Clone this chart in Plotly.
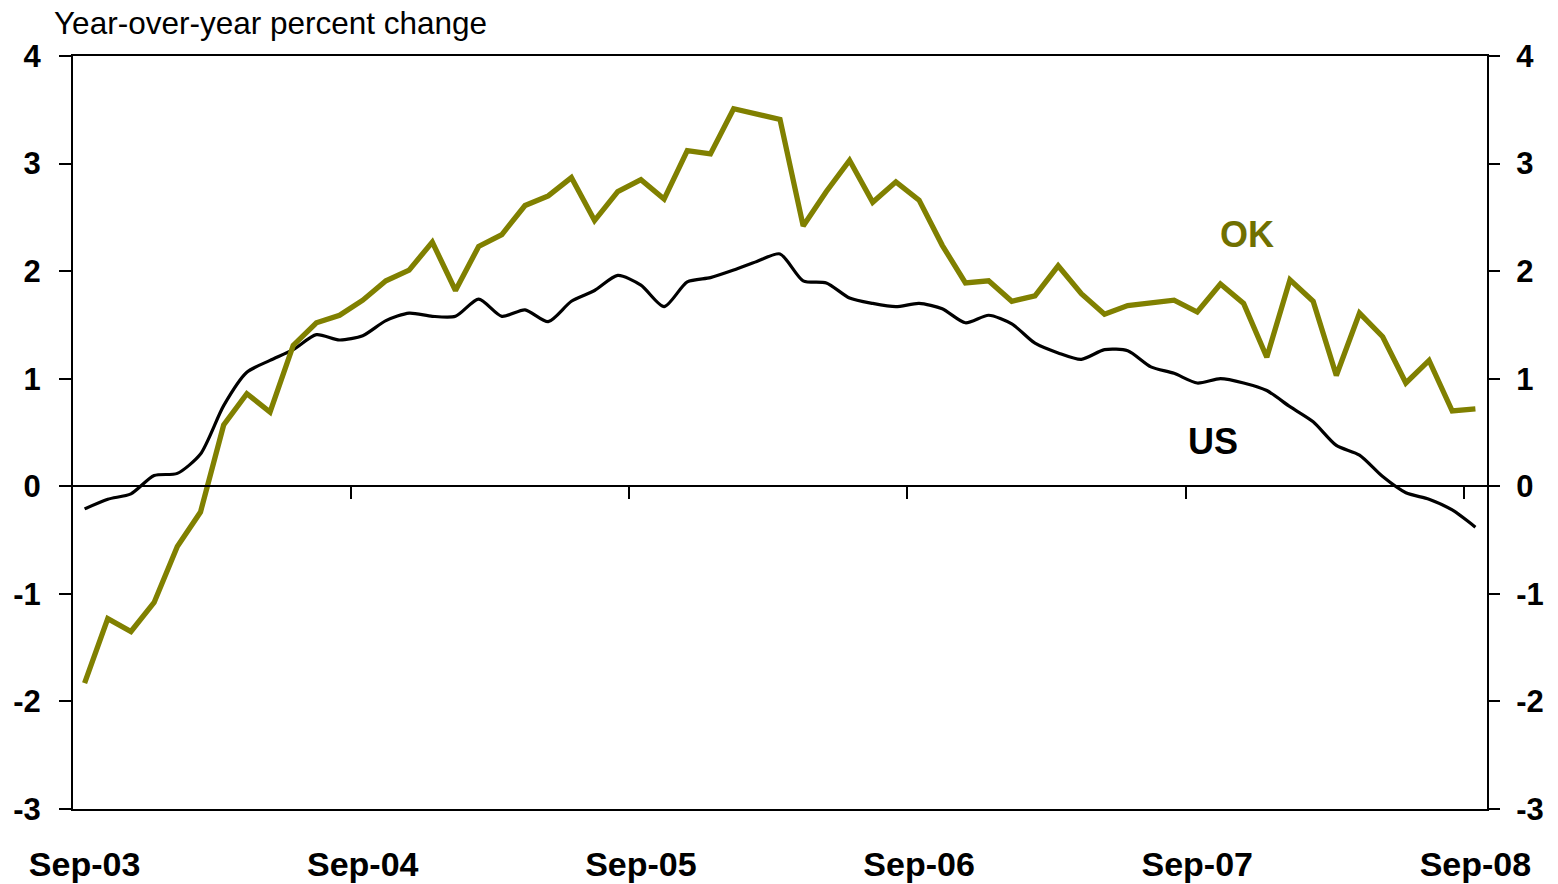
import pandas as pd
import plotly.graph_objects as go

# monthly, Sep-03 .. Sep-08
months = pd.date_range("2003-09-01", periods=61, freq="MS").strftime("%b-%y").tolist()

ok_values = [
    -1.83, -1.23, -1.35, -1.08, -0.56, -0.24, 0.57, 0.86, 0.69, 1.31,
    1.52, 1.59, 1.73, 1.91, 2.01, 2.27, 1.82, 2.23, 2.34, 2.61,
    2.70, 2.87, 2.47, 2.74, 2.85, 2.67, 3.12, 3.09, 3.51, 3.46,
    3.41, 2.42, 2.74, 3.03, 2.64, 2.83, 2.66, 2.24, 1.89, 1.91,
    1.72, 1.77, 2.05, 1.79, 1.60, 1.68, 1.70, 1.73, 1.62, 1.88,
    1.70, 1.20, 1.92, 1.72, 1.03, 1.61, 1.39, 0.96, 1.17, 0.70,
    0.72,
]

us_values = [
    -0.21, -0.12, -0.07, 0.10, 0.12, 0.30, 0.75, 1.06, 1.17, 1.27,
    1.41, 1.36, 1.40, 1.54, 1.61, 1.58, 1.58, 1.74, 1.58, 1.64,
    1.53, 1.72, 1.82, 1.96, 1.87, 1.67, 1.90, 1.94, 2.01, 2.09,
    2.16, 1.91, 1.89, 1.75, 1.70, 1.67, 1.70, 1.65, 1.52, 1.59,
    1.51, 1.33, 1.24, 1.18, 1.27, 1.26, 1.11, 1.05, 0.96, 1.00,
    0.96, 0.89, 0.74, 0.60, 0.38, 0.29, 0.09, -0.06, -0.12, -0.22,
    -0.38,
]

y_ticks = [-3, -2, -1, 0, 1, 2, 3, 4]
y_labels = [str(v) for v in y_ticks]  # plain hyphen, not unicode minus
year_labels = months[::12]
year_bounds = [i - 0.5 for i in range(12, len(months), 12)]

OLIVE = "#808000"
FONT = "Liberation Sans, Arial, sans-serif"
n = len(months)

fig = go.Figure()
fig.add_trace(go.Scatter(x=months, y=us_values, mode="lines", name="US",
                         line=dict(color="black", width=3.2, shape="spline", smoothing=0.7)))
fig.add_trace(go.Scatter(x=months, y=ok_values, mode="lines", name="OK",
                         line=dict(color=OLIVE, width=5.3)))
# empty trace so the right axis and the zero-line axis get drawn
fig.add_trace(go.Scatter(x=[None], y=[None], xaxis="x2", yaxis="y2",
                         mode="lines", showlegend=False, hoverinfo="skip"))

axis_font = dict(family=FONT, size=31, color="black", weight="bold")

fig.update_layout(
    width=1558, height=884,
    margin=dict(l=73, r=71, t=56, b=75),
    paper_bgcolor="white", plot_bgcolor="white",
    showlegend=False,
    font=dict(family=FONT, color="black"),
    xaxis=dict(
        type="category", range=[-0.5, n - 0.5], automargin=False,
        tickmode="array", tickvals=year_labels, ticktext=year_labels,
        ticks="", ticklabelstandoff=24,
        tickfont=dict(family=FONT, size=34, color="black", weight="bold"),
        showline=True, linecolor="black", linewidth=2, mirror=True,
        showgrid=False, zeroline=False,
    ),
    # zero line with year tick marks
    xaxis2=dict(
        overlaying="x", anchor="free", position=3 / 7, side="bottom",
        type="linear", range=[-0.5, n - 0.5], automargin=False,
        tickmode="array", tickvals=year_bounds,
        ticks="outside", ticklen=12, tickwidth=2, tickcolor="black",
        showticklabels=False, showline=True, linecolor="black", linewidth=2,
        showgrid=False, zeroline=False,
    ),
    yaxis=dict(
        range=[-3, 4], tickmode="array", tickvals=y_ticks, ticktext=y_labels,
        ticks="outside", ticklen=12, automargin=False,
        tickwidth=2, tickcolor="black", tickfont=axis_font,
        ticklabelstandoff=12,
        showline=True, linecolor="black", linewidth=2,
        showgrid=False, zeroline=False,
    ),
    yaxis2=dict(
        overlaying="y", side="right", anchor="x",
        range=[-3, 4], tickmode="array", tickvals=y_ticks, ticktext=y_labels,
        ticks="outside", ticklen=11, automargin=False,
        tickwidth=2, tickcolor="black", tickfont=axis_font,
        ticklabelstandoff=10,
        showline=True, linecolor="black", linewidth=2,
        showgrid=False, zeroline=False,
    ),
)

fig.add_annotation(text="Year-over-year percent change", xref="paper", yref="paper",
                   x=-0.0149, y=1.044, xanchor="left", yanchor="middle",
                   showarrow=False, font=dict(family=FONT, size=31.5, color="black"))
fig.add_annotation(text="OK", x=50.15, y=2.34, showarrow=False,
                   font=dict(family=FONT, size=36, color="#707000", weight="bold"))
fig.add_annotation(text="US", x=48.66, y=0.42, showarrow=False,
                   font=dict(family=FONT, size=36, color="black", weight="bold"))

# drop the default 8px body margin so the figure sits at the page corner
fig.write_html("out.html", config={"displayModeBar": False},
               post_script="document.body.style.margin='0';")
